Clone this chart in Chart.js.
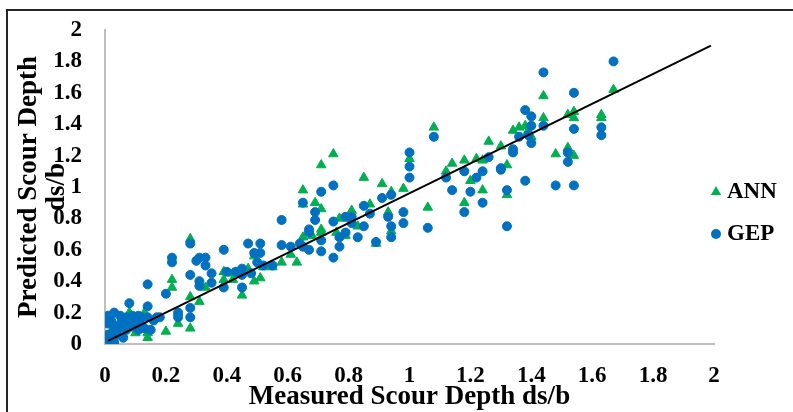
<!DOCTYPE html>
<html lang="en">
<head>
    <meta charset="UTF-8">
    <title>Predicted vs Measured Scour Depth</title>
    <script src="https://cdn.jsdelivr.net/npm/chart.js@4.4.1/dist/chart.umd.min.js"></script>
    <style>
        html, body {
            margin: 0;
            padding: 0;
            background: #fff;
            overflow: hidden;
        }
        #wrap {
            position: relative;
            width: 793px;
            height: 412px;
        }
        #frame {
            position: absolute;
            left: 6px;
            top: 9px;
            width: 900px;
            height: 500px;
            border: 2px solid #262626;
            pointer-events: none;
        }
    </style>
</head>
<body>
    <div id="wrap">
        <canvas id="scourChart" width="793" height="412"></canvas>
        <div id="frame"></div>
    </div>

    <script>
        // ANN predictions (green triangles)
        const annX = [1.67, 1.63, 1.63, 1.54, 1.52, 1.54, 1.54, 1.52, 1.48, 1.44, 1.44, 1.39, 1.38, 1.36, 1.34,
            1.40, 1.30, 1.32, 1.32, 1.26, 1.24, 1.22, 1.18, 1.14, 1.12, 1.20, 1.24, 1.18, 1.08, 1.06,
            1.00, 0.98, 0.94, 0.91, 0.85, 0.93, 0.94, 0.89, 0.87, 0.81, 0.83, 0.77, 0.79, 0.75, 0.71,
            0.71, 0.69, 0.65, 0.65, 0.71, 0.68, 0.65, 0.76, 0.71, 0.63, 0.58, 0.61, 0.55, 0.52, 0.49,
            0.51, 0.49, 0.47, 0.42, 0.39, 0.45, 0.42, 0.39, 0.33, 0.31, 0.28, 0.28, 0.28, 0.24, 0.24,
            0.22, 0.22, 0.20, 0.13, 0.08, 0.07, 0.10, 0.14, 0.14, 0.01, 0.03, 0.05, 0.02];
        const annY = [1.62, 1.46, 1.44, 1.48, 1.46, 1.44, 1.20, 1.25, 1.21, 1.58, 1.44, 1.36, 1.39, 1.38, 1.36,
            1.32, 1.26, 1.14, 0.95, 1.29, 1.17, 1.18, 1.17, 1.15, 1.10, 1.04, 0.98, 0.90, 1.38, 0.87,
            1.18, 0.99, 0.97, 1.02, 1.06, 0.84, 0.72, 0.64, 0.89, 0.85, 0.75, 0.80, 0.69, 1.21, 1.14,
            0.86, 0.90, 0.89, 0.98, 0.71, 0.69, 0.68, 0.71, 0.73, 0.52, 0.52, 0.57, 0.49, 0.49, 0.56,
            0.42, 0.40, 0.48, 0.45, 0.46, 0.31, 0.41, 0.41, 0.36, 0.27, 0.67, 0.30, 0.10, 0.20, 0.13,
            0.41, 0.36, 0.08, 0.20, 0.20, 0.13, 0.07, 0.07, 0.04, 0.01, 0.02, 0.05, 0.08];

        // GEP predictions (blue circles)
        const gepX = [1.67, 1.44, 1.54, 1.38, 1.40, 1.40, 1.44, 1.54, 1.63, 1.63, 1.36, 1.39, 1.40, 1.34, 1.34,
            1.52, 1.52, 1.30, 1.48, 1.54, 1.38, 1.32, 1.32, 1.26, 1.30, 1.24, 1.22, 1.18, 1.12, 1.14,
            1.20, 1.24, 1.18, 1.08, 1.00, 1.00, 1.00, 0.98, 0.98, 1.06, 0.94, 0.91, 0.85, 0.87, 0.93,
            0.94, 0.94, 0.89, 0.85, 0.83, 0.79, 0.81, 0.81, 0.75, 0.79, 0.77, 0.77, 0.75, 0.71, 0.65,
            0.69, 0.69, 0.67, 0.67, 0.71, 0.71, 0.75, 0.65, 0.67, 0.64, 0.58, 0.58, 0.61, 0.47, 0.51,
            0.51, 0.49, 0.39, 0.50, 0.52, 0.55, 0.45, 0.48, 0.43, 0.40, 0.45, 0.45, 0.39, 0.33, 0.33,
            0.35, 0.35, 0.31, 0.30, 0.31, 0.31, 0.28, 0.28, 0.28, 0.28, 0.22, 0.22, 0.20, 0.24, 0.24,
            0.18, 0.14, 0.14, 0.08,
            0.01, 0.03, 0.05, 0.07, 0.09, 0.11, 0.12, 0.14, 0.16, 0.17,
            0.01, 0.03, 0.05, 0.07, 0.09, 0.11, 0.13, 0.15,
            0.01, 0.02, 0.04, 0.06, 0.01, 0.03, 0.02, 0.04, 0.06, 0.08, 0.10, 0.12];
        const gepY = [1.80, 1.73, 1.60, 1.49, 1.45, 1.39, 1.39, 1.37, 1.38, 1.33, 1.32, 1.33, 1.28, 1.24, 1.22,
            1.22, 1.16, 1.12, 1.01, 1.01, 1.04, 0.98, 0.75, 1.19, 1.11, 1.10, 1.06, 1.10, 1.06, 0.98,
            0.97, 0.90, 0.84, 1.32, 1.22, 1.13, 1.06, 0.84, 0.77, 0.74, 0.95, 0.93, 0.88, 0.83, 0.81,
            0.75, 0.68, 0.65, 0.75, 0.68, 0.81, 0.81, 0.77, 0.78, 0.71, 0.68, 0.62, 1.01, 0.97, 0.90,
            0.84, 0.79, 0.73, 0.71, 0.66, 0.59, 0.55, 0.62, 0.60, 0.64, 0.79, 0.63, 0.62, 0.64, 0.64,
            0.58, 0.58, 0.60, 0.52, 0.50, 0.50, 0.48, 0.45, 0.46, 0.46, 0.44, 0.36, 0.36, 0.55, 0.50,
            0.45, 0.39, 0.55, 0.53, 0.40, 0.37, 0.64, 0.44, 0.23, 0.17, 0.55, 0.52, 0.32, 0.20, 0.17,
            0.17, 0.38, 0.24, 0.26,
            0.18, 0.20, 0.18, 0.17, 0.18, 0.18, 0.17, 0.17, 0.15, 0.17,
            0.13, 0.11, 0.13, 0.09, 0.11, 0.09, 0.10, 0.09,
            0.06, 0.05, 0.06, 0.04, 0.03, 0.01, 0.15, 0.09, 0.15, 0.14, 0.13, 0.12];

        // black reference line
        const lineX = [0.01, 1.99];
        const lineY = [0.02, 1.90];

        const tickValues = [0, 0.2, 0.4, 0.6, 0.8, 1, 1.2, 1.4, 1.6, 1.8, 2];
        const tickLabels = ['0', '0.2', '0.4', '0.6', '0.8', '1', '1.2', '1.4', '1.6', '1.8', '2'];

        const SERIF = "'Times New Roman', 'Liberation Serif', serif";
        const GREEN = '#00B050';
        const BLUE = '#0070C0';

        const toPoints = (xs, ys) => xs.map((x, i) => ({ x: x, y: ys[i] }));

        // legend drawn by hand on the right side
        const sideLegend = {
            id: 'sideLegend',
            afterDraw(chart) {
                const ctx = chart.ctx;
                ctx.save();
                // triangle
                const tx = 716, ty = 192, r = 6;
                ctx.fillStyle = GREEN;
                ctx.beginPath();
                ctx.moveTo(tx, ty - r);
                ctx.lineTo(tx + r * 0.866, ty + r / 2);
                ctx.lineTo(tx - r * 0.866, ty + r / 2);
                ctx.closePath();
                ctx.fill();
                // circle
                ctx.fillStyle = BLUE;
                ctx.beginPath();
                ctx.arc(716, 234, 5, 0, Math.PI * 2);
                ctx.fill();

                ctx.fillStyle = '#000';
                ctx.font = 'bold 23px ' + SERIF;
                ctx.textBaseline = 'middle';
                ctx.textAlign = 'left';
                ctx.fillText('ANN', 727, 192);
                ctx.fillText('GEP', 727, 234);
                ctx.restore();
            }
        };

        const setTicks = scale => { scale.ticks = tickValues.map(v => ({ value: v })); };
        const tickText = (value, index) => tickLabels[index];

        new Chart(document.getElementById('scourChart'), {
            type: 'scatter',
            data: {
                datasets: [
                    {
                        label: 'Line',
                        data: toPoints(lineX, lineY),
                        showLine: true,
                        borderColor: '#000',
                        borderWidth: 2,
                        pointRadius: 0,
                        order: 0
                    },
                    {
                        label: 'GEP',
                        data: toPoints(gepX, gepY),
                        pointStyle: 'circle',
                        pointRadius: 4.5,
                        borderWidth: 1,
                        backgroundColor: BLUE,
                        borderColor: BLUE,
                        order: 1
                    },
                    {
                        label: 'ANN',
                        data: toPoints(annX, annY),
                        pointStyle: 'triangle',
                        pointRadius: 5.5,
                        borderWidth: 1,
                        backgroundColor: GREEN,
                        borderColor: GREEN,
                        order: 2
                    }
                ]
            },
            options: {
                responsive: false,
                animation: false,
                events: [],
                layout: {
                    padding: { left: 0, right: 79, top: 30, bottom: 0 }
                },
                plugins: {
                    legend: { display: false },
                    tooltip: { enabled: false }
                },
                scales: {
                    x: {
                        type: 'linear',
                        min: 0,
                        max: 2,
                        afterBuildTicks: setTicks,
                        afterFit: scale => { scale.height = 68; },
                        grid: { display: false },
                        border: { display: true, color: '#BFBFBF', width: 2 },
                        ticks: {
                            color: '#000',
                            padding: 10,
                            maxRotation: 0,
                            callback: tickText,
                            font: { family: SERIF, size: 23, weight: 'bold' }
                        },
                        title: {
                            display: true,
                            text: 'Measured Scour Depth ds/b',
                            color: '#000',
                            padding: { top: 0, bottom: 1 },
                            font: { family: SERIF, size: 27, weight: 'bold', lineHeight: 1.05 }
                        }
                    },
                    y: {
                        type: 'linear',
                        min: 0,
                        max: 2,
                        afterBuildTicks: setTicks,
                        afterFit: scale => { scale.width = 105; },
                        grid: { display: false },
                        border: { display: true, color: '#BFBFBF', width: 2 },
                        ticks: {
                            color: '#000',
                            padding: 15,
                            callback: tickText,
                            font: { family: SERIF, size: 23, weight: 'bold' }
                        },
                        title: {
                            display: true,
                            text: ['Predicted Scour Depth', 'ds/b'],
                            color: '#000',
                            padding: { top: 15, bottom: 0 },
                            font: { family: SERIF, size: 27, weight: 'bold', lineHeight: 1.05 }
                        }
                    }
                }
            },
            plugins: [sideLegend]
        });
    </script>
</body>
</html>
